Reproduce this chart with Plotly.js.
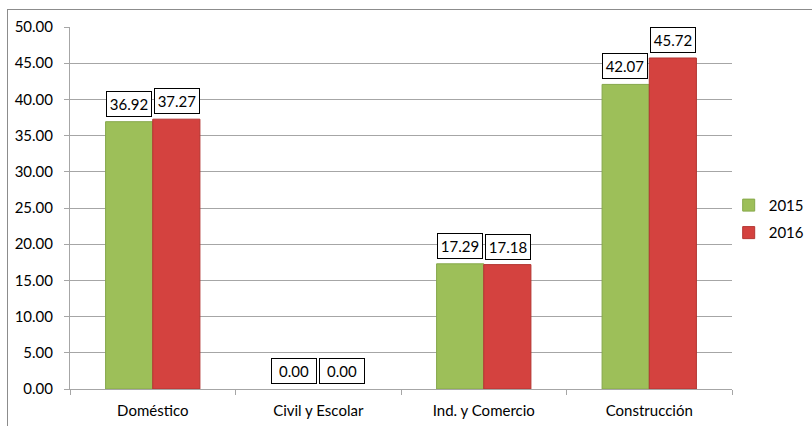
<!DOCTYPE html>
<html>
<head>
<meta charset="utf-8">
<script src="https://cdn.plot.ly/plotly-3.0.1.min.js"></script>
<style>
html,body{margin:0;padding:0;background:#fff;overflow:hidden;}
#wrap{position:relative;width:812px;height:426px;}
#chart{position:absolute;left:0;top:0;width:812px;height:426px;}
#frame{position:absolute;left:7px;top:9px;width:830px;height:440px;border-left:1px solid #8c8c8c;border-top:1px solid #8c8c8c;pointer-events:none;}
</style>
</head>
<body>
<div id="wrap"><div id="chart"></div><div id="frame"></div></div>
<script>
const categories = ["Doméstico", "Civil y Escolar", "Ind. y Comercio", "Construcción"];
const seriesNames = ["2015", "2016"];
const values2015 = [36.92, 0.00, 17.29, 42.07];
const values2016 = [37.27, 0.00, 17.18, 45.72];
const yTickVals = [0, 5, 10, 15, 20, 25, 30, 35, 40, 45, 50];

const FONT = "Lato, 'Open Sans', sans-serif";
const colors = ["#9dbf59", "#d4423f"];
const edges = ["#86a84a", "#b33532"];
const allVals = [values2015, values2016];

const traces = allVals.map((vals, s) => ({
  type: "bar",
  name: seriesNames[s],
  x: categories,
  y: vals,
  legendgroup: "g" + s,
  marker: {
    color: colors[s],
    line: {color: edges[s], width: vals.map(v => (v > 0 ? 1 : 0))}
  },
  hoverinfo: "skip"
}));

const annotations = [];
allVals.forEach((vals, s) => {
  vals.forEach((v, i) => {
    annotations.push({
      x: categories[i], y: v, xref: "x", yref: "y",
      text: v.toFixed(2),
      showarrow: false,
      xanchor: "center", yanchor: "bottom",
      xshift: s === 0 ? -24 : 24,
      yshift: 5,
      width: 40, height: 20,
      borderpad: 2,
      bordercolor: "#000", borderwidth: 1,
      bgcolor: "#fff",
      font: {family: FONT, size: 15, color: "#000"}
    });
  });
});

const layout = {
  width: 812, height: 426,
  margin: {l: 70, r: 80, t: 27, b: 37, pad: 0, autoexpand: false},
  paper_bgcolor: "#fff", plot_bgcolor: "#fff",
  barmode: "group",
  bargap: 0.43, bargroupgap: 0,
  font: {family: FONT, size: 15, color: "#000"},
  showlegend: true,
  legend: {
    x: 0.995, xanchor: "left", y: 0.47, yanchor: "middle",
    font: {family: FONT, size: 15, color: "#000"},
    tracegroupgap: 5, itemwidth: 30,
    bgcolor: "rgba(0,0,0,0)"
  },
  xaxis: {
    type: "category",
    showgrid: false,
    showline: true, linecolor: "#a6a6a6", linewidth: 1,
    ticks: "outside", tickson: "boundaries", ticklen: 5, tickcolor: "#a6a6a6",
    tickfont: {family: FONT, size: 15, color: "#000"},
    ticklabelstandoff: 8,
    fixedrange: true
  },
  yaxis: {
    range: [0, 50],
    tickvals: yTickVals,
    tickformat: ".2f",
    showgrid: true, gridcolor: "#a6a6a6", gridwidth: 1,
    zeroline: false,
    showline: true, linecolor: "#a6a6a6", linewidth: 1,
    ticks: "outside", ticklen: 5, tickcolor: "#a6a6a6",
    tickfont: {family: FONT, size: 15, color: "#000"},
    ticklabelstandoff: 8,
    fixedrange: true
  },
  annotations: annotations
};

Plotly.newPlot("chart", traces, layout, {displayModeBar: false, staticPlot: true});
</script>
</body>
</html>
